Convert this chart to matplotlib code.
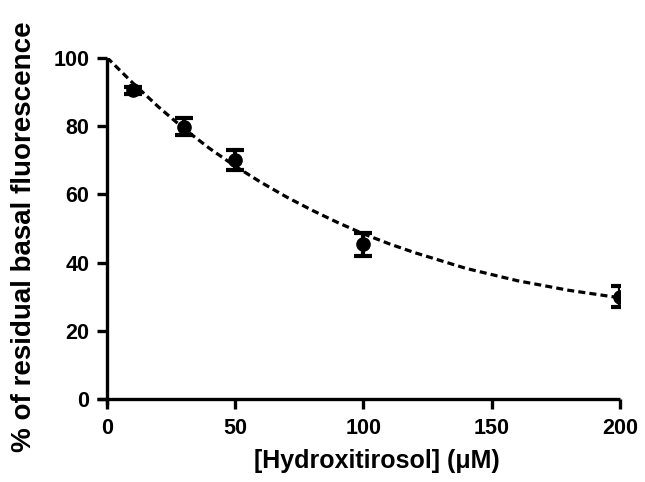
import matplotlib
matplotlib.use("Agg")
import matplotlib.pyplot as plt

conc = [10, 30, 50, 100, 200]
fluo = [90.4, 79.8, 70.0, 45.3, 30.0]
err = [1.0, 2.4, 2.8, 3.4, 3.1]

# fitted curve
curve_x = [0, 10, 20, 30, 40, 50, 60, 70, 80, 90, 100, 110, 120, 140, 160, 180, 200]
curve_y = [100, 92.6, 85.6, 79.2, 73.4, 68.2, 63.5, 59.2, 55.3, 51.7, 48.4,
           45.5, 42.9, 38.3, 34.7, 31.9, 29.7]

xticks = [0, 50, 100, 150, 200]
yticks = [0, 20, 40, 60, 80, 100]

plt.rcParams['font.family'] = ['Liberation Sans', 'DejaVu Sans']
plt.rcParams['font.weight'] = 'bold'

fig = plt.figure(figsize=(6.45, 4.82), dpi=100)
ax = fig.add_axes([0.1499, 0.1602, 0.8113, 0.7205])

ax.plot(curve_x, curve_y, color='black', lw=2.3, ls=(0, (2.2, 1.3)),
        solid_joinstyle='round', zorder=2)

ax.errorbar(conc, fluo, yerr=err, fmt='o', color='black', ms=9.5,
            elinewidth=3, capsize=6.5, capthick=3, zorder=3)

ax.set_xlim(-4, 200)
ax.set_ylim(-1.6, 100)
for s in ['top', 'right']:
    ax.spines[s].set_visible(False)
ax.spines['left'].set_position(('data', 0))
ax.spines['bottom'].set_position(('data', 0))
for s in ['left', 'bottom']:
    ax.spines[s].set_linewidth(2.4)
    ax.spines[s].set_capstyle('butt')

ax.set_xticks(xticks)
ax.set_yticks(yticks)
ax.tick_params(width=2.4, length=7.5, labelsize=15.5)
ax.tick_params(axis='y', pad=5)
ax.tick_params(axis='x', pad=6)

fig.text(0.584, 0.0436, '[Hydroxitirosol] (\u03bcM)', fontsize=18,
         fontweight='bold', ha='center', va='center')
fig.text(0.037, 0.509, '% of residual basal fluorescence', fontsize=20,
         fontweight='bold', ha='center', va='center', rotation=90)

fig.savefig('out.png', dpi=100)
